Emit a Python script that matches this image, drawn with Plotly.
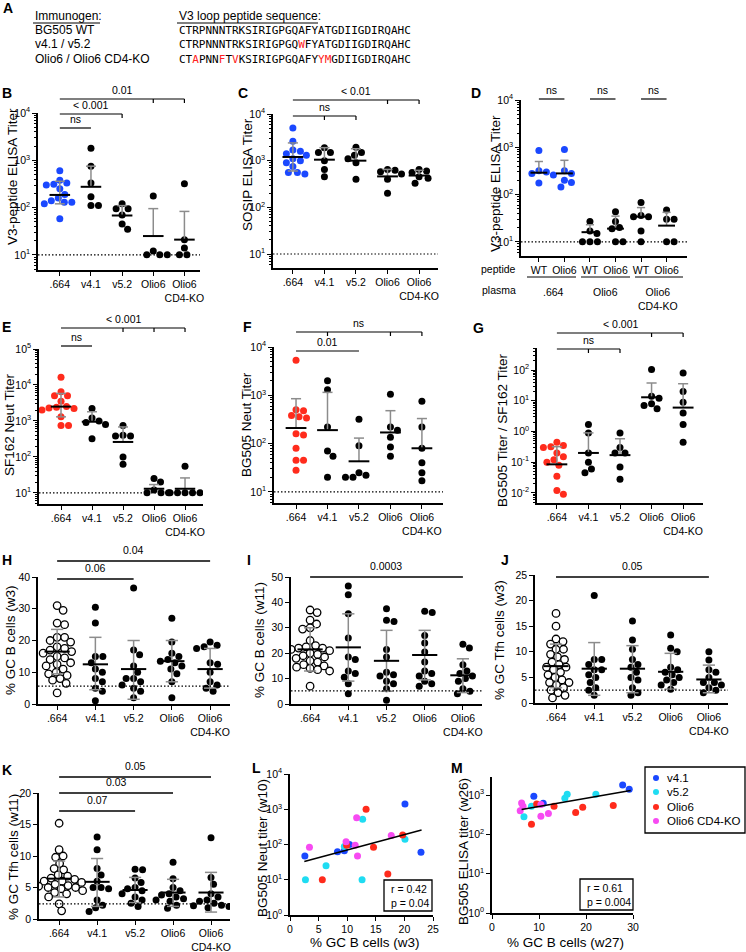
import numpy as np
import plotly.graph_objects as go

W, H = 746, 952
FONT = "Liberation Sans, Arial, sans-serif"
MONO = "DejaVu Sans Mono, monospace"

BLUE = "#1a48ff"
RED = "#ff2b1c"
CYAN = "#1fdcf2"
MAGENTA = "#f74af2"
GREY = "#8c8c8c"

# ---------------- data ----------------
groups = [".664", "v4.1", "v5.2", "Olio6", "Olio6<br>CD4-KO"]
d_groups = ["WT", "Olio6", "WT", "Olio6", "WT", "Olio6"]

# B  V3-peptide ELISA titer
b_vals = [[600, 380, 330, 310, 300, 250, 190, 160, 140, 130, 130, 120, 58],
          [1800, 750, 330, 170, 110, 110],
          [120, 95, 95, 70, 45, 35],
          [175, 12, 10, 10, 10],
          [320, 21, 14, 10, 10]]
b_mean = [185, 275, 68, 25, 21]
b_hi = [360, 750, 110, 95, 83]
b_lo = [120, None, None, None, None]
b_sig = [(0, 1, [], "ns"), (0, 2, [2], "< 0.001"), (0, 4, [3, 4], "0.01")]

# C  SOSIP ELISA titer
c_vals = [[5000, 2600, 1700, 1600, 1400, 1300, 1100, 1000, 900, 750, 560, 560, 520],
          [1900, 1500, 1500, 1000, 650, 450],
          [1950, 1500, 1300, 1100, 900, 400],
          [650, 620, 580, 520, 400, 200],
          [650, 600, 560, 450, 420, 330]]
c_mean = [1200, 1050, 1000, 460, 480]
c_hi = [2400, 1900, 1800, 650, 620]
c_lo = [600, None, None, None, None]
c_sig = [(0, 2, [1, 2], "ns"), (0, 4, [3, 4], "< 0.01")]

# D  V3-peptide ELISA titer by peptide / plasma
d_vals = [[850, 320, 300, 280, 260, 175],
          [900, 320, 280, 200, 180, 145],
          [27, 17, 15, 10, 10, 10],
          [43, 27, 20, 19, 10, 10],
          [68, 36, 34, 34, 17, 10],
          [47, 30, 30, 10, 10]]
d_mean = [290, 280, 16, 19, 34, 22]
d_hi = [500, 530, 23, 35, 53, 42]
d_lo = [None] * 6
d_sig = [(0, 1, [], "ns"), (2, 3, [], "ns"), (4, 5, [], "ns")]
d_plasma = [".664", "Olio6", "Olio6<br>CD4-KO"]

# E  SF162 neut titer
e_vals = [[16500, 6500, 5000, 5000, 3500, 2500, 2400, 2300, 2200, 2000, 1300, 750, 750],
          [2200, 1200, 1000, 900, 800, 320],
          [750, 400, 380, 380, 100, 62],
          [25, 20, 12, 10, 10, 10],
          [55, 10, 10, 10, 10, 10]]
e_mean = [2500, 950, 260, 13, 13]
e_hi = [5800, 1800, 680, 17, 26]
e_lo = [1300, None, None, None, None]
e_sig = [(0, 1, [], "ns"), (0, 4, [2, 3, 4], "< 0.001")]

# F  BG505 neut titer
f_vals = [[5300, 500, 480, 380, 360, 340, 160, 150, 80, 45, 45, 28],
          [2000, 1300, 220, 70, 55, 20],
          [320, 90, 25, 22, 20, 20],
          [1050, 220, 190, 135, 85, 55],
          [750, 220, 80, 40, 25, 17]]
f_mean = [210, 190, 43, 170, 80]
f_hi = [850, 1150, 130, 480, 330]
f_lo = [None] * 5
f_sig = [(0, 2, [], "0.01"), (0, 4, [1, 3, 4], "ns")]

# G  BG505 / SF162 titer ratio
g_vals = [[0.45, 0.35, 0.32, 0.3, 0.2, 0.15, 0.12, 0.1, 0.08, 0.035, 0.012, 0.009],
          [1.7, 0.9, 0.2, 0.1, 0.06, 0.045],
          [0.9, 0.3, 0.2, 0.2, 0.07, 0.028],
          [105, 14, 12, 8, 7, 5.5],
          [80, 20, 9, 4, 1.7, 0.45]]
g_mean = [0.085, 0.2, 0.17, 13, 6]
g_hi = [0.32, 0.9, 0.58, 38, 36]
g_lo = [None] * 5
g_sig = [(0, 2, [1, 2], "ns"), (0, 4, [3, 4], "< 0.001")]

# H  % GC B cells (w3)
h_vals = [[31, 29.5, 25.5, 25, 21, 21, 20, 19.5, 18, 17.5, 17, 16.5, 16, 15, 14.5, 14,
           13, 12.5, 12, 11, 10, 9.5, 9, 8, 7.5, 6.5, 3.5],
          [30.5, 25.5, 15, 15, 13, 11, 10, 8, 7, 5, 4, 1],
          [36.5, 17, 15.5, 12, 10, 8, 8, 7, 6, 5, 4, 2],
          [27, 19.5, 16, 15, 14, 13.5, 13, 12, 11, 9.5, 7, 2],
          [19.5, 18.5, 18, 17.5, 13, 12.5, 10, 7, 6, 5, 4]]
h_mean = [16.5, 12.5, 11, 13.5, 11]
h_hi = [23.5, 21, 20, 20, 17.5]
h_lo = [9.5, 4.5, 1.5, 7, 5]
h_sig = [(0, 2, [], "0.06"), (0, 4, [], "0.04")]

# I  % GC B cells (w11)
i_vals = [[37, 36, 33, 31.5, 30, 29.5, 25, 23, 22.5, 22, 22, 21.5, 21, 20, 19.5, 19,
           18.5, 18, 17, 16.5, 15.5, 15, 14.5, 14, 13.5, 13, 7],
          [46.5, 43, 35.5, 26, 18.5, 17.5, 13, 12, 10.5, 8, 4],
          [37.5, 33, 32.5, 21.5, 18.5, 12.5, 11.5, 11, 9, 8, 6, 1.5],
          [36.5, 36, 27, 24, 20.5, 16.5, 13, 12, 11, 9, 8, 7],
          [23.5, 22, 15.5, 13, 12, 11, 10, 9, 6, 5, 4]]
i_mean = [21.5, 22.3, 17, 19.3, 11.3]
i_hi = [30, 35.5, 29, 29, 17.8]
i_lo = [13, 9, 5, 9.5, 4.5]
i_sig = [(0, 4, [], "0.0003")]

# J  % GC Tfh cells (w3)
j_vals = [[17.5, 15, 12.5, 12, 11.5, 10.5, 10.5, 9.5, 9, 8.5, 8, 7.5, 7, 7, 6.5, 6,
           5.5, 5, 4.5, 4, 4, 3.5, 3, 2.5, 2, 1.5, 1],
          [21, 8.5, 8.5, 7.5, 6.5, 6.5, 5.5, 5, 4, 3, 2.5, 1.5],
          [16, 12.3, 10.5, 8.5, 7.5, 7, 6, 5, 4.5, 3, 2, 1.5],
          [13.3, 10.7, 10, 7, 6.5, 6, 5.5, 5, 4.5, 4, 3.5, 2.7],
          [10, 8.4, 6.5, 6, 5, 4, 4, 3.5, 3, 2.5, 2]]
j_mean = [7.2, 6.7, 6.7, 6.1, 4.6]
j_hi = [11.5, 11.8, 11.2, 9.7, 7.4]
j_lo = [3, 1.5, 2, 2.7, 2]
j_sig = [(0, 4, [], "0.05")]

# K  % GC Tfh cells (w11)
k_vals = [[15.2, 11, 10, 9.8, 8.8, 8, 7.8, 7, 6.8, 6.5, 6.3, 6, 6, 5.8, 5.5, 5.3,
           5.2, 5, 5, 4.8, 4.5, 4.2, 4, 3.5, 2.4, 1.3],
          [13, 11, 8, 7, 6, 5, 5, 4.8, 3, 2.2, 1.8, 1.2],
          [7.9, 7.8, 6.5, 5.8, 5, 4.8, 4.5, 4, 3.5, 3, 2.5, 2],
          [9, 6.4, 5, 4.5, 4, 3.8, 3.5, 3.2, 3, 2.8, 2.2, 1.7],
          [12.9, 6.6, 5.5, 4, 3.5, 3, 2.8, 2.5, 2.2, 2.1, 2, 1.8]]
k_mean = [6.4, 5.9, 4.6, 4.2, 4.2]
k_hi = [9.2, 9.6, 6.6, 6.3, 7.4]
k_lo = [3.5, 2, 2.6, 2, 1.1]
k_sig = [(0, 2, [], "0.07"), (0, 3, [], "0.03"), (0, 4, [], "0.05")]

# L  BG505 neut titer (w10) vs % GC B cells (w3)
series = ["v4.1", "v5.2", "Olio6", "Olio6 CD4-KO"]
l_x = [[2.6, 8.3, 9.5, 10.4, 20.1, 22.9],
       [2.7, 6.3, 9.5, 12.7, 12.6, 20.1],
       [5.65, 9.9, 13.3, 14.6, 17.1, 19.7],
       [3.4, 9.8, 11.4, 11.65, 11.8, 17.7]]
l_y = [[47, 62, 66, 100, 1400, 60],
       [10, 25, 88, 520, 10, 140],
       [10, 95, 1000, 83, 14.5, 185],
       [83, 120, 95, 570, 47, 180]]
l_fit_x = [2.5, 23]
l_fit_y = [33, 257]
l_stats = "r = 0.42<br>p = 0.04"

# M  BG505 ELISA titer (w26) vs % GC B cells (w27)
m_x = [[27.8, 29.2, 8.9, 10.9],
       [16, 15.5, 22.1, 8.4, 6.8],
       [9.5, 13.2, 19.3, 25.8, 17.8, 8.4],
       [6.3, 6.6, 6.0, 10.4, 10.4, 12.0]]
m_y = [[1800, 1400, 940, 620],
       [1050, 830, 1050, 520, 280],
       [590, 520, 490, 540, 360, 180],
       [630, 520, 400, 580, 290, 340]]
m_fit_x = [6.3, 29.5]
m_fit_y = [430, 1300]
m_stats = "r = 0.61<br>p = 0.004"

# ---------------- layout helpers ----------------
fig = go.Figure()
shapes, annotations = [], []
layout = dict(template="none", width=W, height=H, margin=dict(l=0, r=0, t=0, b=0, autoexpand=False),
              plot_bgcolor="white", paper_bgcolor="white", showlegend=False,
              font=dict(family=FONT, color="black", size=11))


def names(n):
    s = "" if n == 1 else str(n)
    return "xaxis" + s, "yaxis" + s, "x" + s, "y" + s


def ann(x, y, text, size=10.5, **kw):
    d = dict(x=x / W, y=1 - y / H, xref="paper", yref="paper", text=text, showarrow=False,
             xanchor="center", yanchor="middle",
             font=dict(family=FONT, size=size, color="black"))
    d.update(kw)
    annotations.append(d)


def hline(x0, x1, y, width=1.2, color="black", dash=None):
    shapes.append(dict(type="line", xref="paper", yref="paper", x0=x0 / W, x1=x1 / W,
                       y0=1 - y / H, y1=1 - y / H, line=dict(color=color, width=width, dash=dash)))


def vline(x, y0, y1, width=1.2):
    shapes.append(dict(type="line", xref="paper", yref="paper", x0=x / W, x1=x / W,
                       y0=1 - y0 / H, y1=1 - y1 / H, line=dict(color="black", width=width)))


def setup(p):
    xa, ya, xr, yr = names(p["n"])
    l, r, t, b = p["box"]
    base = dict(showline=True, linecolor="black", linewidth=1.5, ticks="outside", ticklen=4,
                tickwidth=1.3, tickcolor="black", showgrid=False, zeroline=False,
                automargin=False, tickangle=0,
                tickfont=dict(size=10.5, color="black", family=FONT), fixedrange=True)
    xaxis = dict(base, domain=[l / W, r / W], anchor=yr, range=list(p["xr"]))
    yaxis = dict(base, domain=[1 - b / H, 1 - t / H], anchor=xr, range=list(p["yr"]))
    if p.get("cats"):
        xaxis.update(tickmode="array", tickvals=list(range(len(p["cats"]))), ticktext=p["cats"])
    else:
        xaxis.update(tickmode="array", tickvals=p["xt"])
    if p["log"]:
        lo, hi = int(np.ceil(p["yr"][0])), int(np.floor(p["yr"][1]))
        yaxis.update(type="log", tickmode="array", tickvals=[10.0 ** k for k in range(lo, hi + 1)],
                     ticktext=["10<sup>%d</sup>" % k for k in range(lo, hi + 1)])
        if p.get("minor", True):
            mv = [m * 10.0 ** k for k in range(lo - 1, hi + 1) for m in range(2, 10)]
            mv = [v for v in mv if p["yr"][0] <= np.log10(v) <= p["yr"][1]]
            yaxis["minor"] = dict(ticks="outside", ticklen=2, tickwidth=0.8, tickcolor="black",
                                  tickmode="array", tickvals=mv)
    else:
        yaxis.update(tickmode="array", tickvals=p["yt"])
    layout[xa] = xaxis
    layout[ya] = yaxis


def cat_px(p, g):
    l, r, _, _ = p["box"]
    return l + (g - p["xr"][0]) / (p["xr"][1] - p["xr"][0]) * (r - l)


def swarm(ypix, d):
    offs = np.zeros(len(ypix))
    placed = []
    for i in np.argsort(-ypix, kind="stable"):
        y = ypix[i]
        k, found = 0, None
        while found is None:
            for o in ([0.0] if k == 0 else [k * 0.5, -k * 0.5]):
                if all((o - po) ** 2 + (y - py) ** 2 >= d * d for po, py in placed):
                    found = o
                    break
            k += 1
        placed.append((found, y))
        offs[i] = found
    return offs


def strip(p, vals, mean, hi, lo, colors, open_first=False):
    _, _, xr, yr = names(p["n"])
    l, r, t, b = p["box"]
    ppx = (r - l) / (p["xr"][1] - p["xr"][0])
    ppy = (b - t) / (p["yr"][1] - p["yr"][0])
    for g, v in enumerate(vals):
        v = np.asarray(v, float)
        yv = np.log10(v) if p["log"] else v
        offs = swarm(yv * ppy, 7.3) / ppx
        if open_first and g == 0:
            mk = dict(size=7.5, color="white", line=dict(color="black", width=1.3))
        else:
            mk = dict(size=7, color=colors[g], line=dict(width=0))
        fig.add_trace(go.Scatter(x=g + offs, y=v, mode="markers", marker=mk,
                                 xaxis=xr, yaxis=yr, hoverinfo="skip"))
    ex, ey, mx, my = [], [], [], []
    for g in range(len(vals)):
        bottom = lo[g] if lo[g] is not None else mean[g]
        ex += [g, g, None, g - 0.16, g + 0.16, None]
        ey += [bottom, hi[g], None, hi[g], hi[g], None]
        if lo[g] is not None:
            ex += [g - 0.16, g + 0.16, None]
            ey += [lo[g], lo[g], None]
        mx += [g - 0.33, g + 0.33, None]
        my += [mean[g], mean[g], None]
    fig.add_trace(go.Scatter(x=ex, y=ey, mode="lines", line=dict(color=GREY, width=1.5),
                             xaxis=xr, yaxis=yr, hoverinfo="skip"))
    fig.add_trace(go.Scatter(x=mx, y=my, mode="lines", line=dict(color="black", width=2),
                             xaxis=xr, yaxis=yr, hoverinfo="skip"))


def dotted(p, yval):
    _, _, xr, yr = names(p["n"])
    fig.add_trace(go.Scatter(x=list(p["xr"]), y=[yval, yval], mode="lines",
                             line=dict(color="black", width=1.2, dash="1.5px,2px"),
                             xaxis=xr, yaxis=yr, hoverinfo="skip"))


def sig(p, specs, ys, gap=1, drop=4, width=1.2):
    for (g0, g1, drops, label), y in zip(specs, ys):
        x0, x1 = cat_px(p, g0), cat_px(p, g1)
        hline(x0, x1, y, width=width)
        for g in drops:
            vline(cat_px(p, g), y, y + drop, width=width)
        ann((x0 + x1) / 2, y - gap, label, yanchor="bottom")


# ---------------- panel geometry (pixels: left, right, top, bottom) ----------------
P = {
    "B": dict(n=1, box=(38, 200, 113, 270), xr=(-0.7, 4.5), yr=(0.68, 4), log=True, cats=groups),
    "C": dict(n=2, box=(273, 438, 114, 268), xr=(-0.63, 4.6), yr=(0.70, 4), log=True, cats=groups),
    "D": dict(n=3, box=(521, 687, 100, 256), xr=(-0.7, 5.8), yr=(0.70, 4), log=True, cats=d_groups),
    "E": dict(n=4, box=(39, 203, 349, 504), xr=(-0.71, 4.58), yr=(0.69, 5), log=True, cats=groups),
    "F": dict(n=5, box=(274, 443, 347, 503), xr=(-0.70, 4.67), yr=(0.77, 4), log=True, cats=groups),
    "G": dict(n=6, box=(537, 703, 348, 503), xr=(-0.63, 4.63), yr=(-2.33, 2.72), log=True, cats=groups),
    "H": dict(n=7, box=(38, 230, 577, 704), xr=(-0.5, 4.52), yr=(0, 40), log=False, cats=groups,
              yt=[0, 10, 20, 30, 40]),
    "I": dict(n=8, box=(291, 482, 577, 704), xr=(-0.5, 4.5), yr=(0, 50), log=False, cats=groups,
              yt=[0, 10, 20, 30, 40, 50]),
    "J": dict(n=9, box=(535, 728, 575, 703), xr=(-0.55, 4.5), yr=(0, 25), log=False, cats=groups,
              yt=[0, 5, 10, 15, 20, 25]),
    "K": dict(n=10, box=(39, 230, 793, 919), xr=(-0.53, 4.5), yr=(0, 20), log=False, cats=groups,
              yt=[0, 5, 10, 15, 20]),
    "L": dict(n=11, box=(290, 433, 774, 915), xr=(0, 25), yr=(0, 4), log=True, minor=False,
              xt=[0, 5, 10, 15, 20, 25]),
    "M": dict(n=12, box=(492, 633, 777, 913), xr=(0, 30), yr=(0, 3.46), log=True, minor=False,
              xt=[0, 10, 20, 30]),
}
for p in P.values():
    setup(p)

# strip plots
blk = "black"
strip(P["B"], b_vals, b_mean, b_hi, b_lo, [BLUE, blk, blk, blk, blk])
strip(P["C"], c_vals, c_mean, c_hi, c_lo, [BLUE, blk, blk, blk, blk])
strip(P["D"], d_vals, d_mean, d_hi, d_lo, [BLUE, BLUE, blk, blk, blk, blk])
strip(P["E"], e_vals, e_mean, e_hi, e_lo, [RED, blk, blk, blk, blk])
strip(P["F"], f_vals, f_mean, f_hi, f_lo, [RED, blk, blk, blk, blk])
strip(P["G"], g_vals, g_mean, g_hi, g_lo, [RED, blk, blk, blk, blk])
strip(P["H"], h_vals, h_mean, h_hi, h_lo, [blk] * 5, open_first=True)
strip(P["I"], i_vals, i_mean, i_hi, i_lo, [blk] * 5, open_first=True)
strip(P["J"], j_vals, j_mean, j_hi, j_lo, [blk] * 5, open_first=True)
strip(P["K"], k_vals, k_mean, k_hi, k_lo, [blk] * 5, open_first=True)

for key in "BCDEF":
    dotted(P[key], 10)
dotted(P["H"], 5.6)
dotted(P["I"], 5.2)
dotted(P["J"], 2.5)
dotted(P["K"], 2.4)

sig(P["B"], b_sig, [128, 114, 99])
sig(P["C"], c_sig, [116, 100])
sig(P["D"], d_sig, [99, 99, 99])
sig(P["E"], e_sig, [346, 328])
sig(P["F"], f_sig, [351, 332])
sig(P["G"], g_sig, [349, 333])
sig(P["H"], h_sig, [579, 561], gap=3, width=1.5)
sig(P["I"], i_sig, [577], gap=3, width=1.5)
sig(P["J"], j_sig, [577], gap=3, width=1.5)
sig(P["K"], k_sig, [811, 793, 777], gap=3, width=1.5)

# scatter panels L and M
colors4 = [BLUE, CYAN, RED, MAGENTA]
for key, xs, ys, fx, fy in (("L", l_x, l_y, l_fit_x, l_fit_y), ("M", m_x, m_y, m_fit_x, m_fit_y)):
    _, _, xr, yr = names(P[key]["n"])
    for s in range(4):
        fig.add_trace(go.Scatter(x=xs[s], y=ys[s], mode="markers", name=series[s],
                                 marker=dict(size=7, color=colors4[s]), xaxis=xr, yaxis=yr,
                                 hoverinfo="skip"))
    fig.add_trace(go.Scatter(x=fx, y=fy, mode="lines", line=dict(color="black", width=1.5),
                             xaxis=xr, yaxis=yr, hoverinfo="skip"))

# stats boxes
for (x0, x1, y0, y1), txt in (((384, 432, 880, 911), l_stats), ((580, 633, 879, 910), m_stats)):
    shapes.append(dict(type="rect", xref="paper", yref="paper", x0=x0 / W, x1=x1 / W,
                       y0=1 - y1 / H, y1=1 - y0 / H, line=dict(color="black", width=1.3)))
    ann(x0 + 5, (y0 + y1) / 2, txt, size=10.5, xanchor="left", align="left")

# manual legend for M
shapes.append(dict(type="rect", xref="paper", yref="paper", x0=645 / W, x1=745 / W,
                   y0=1 - 833 / H, y1=1 - 767 / H, line=dict(color="black", width=1.3)))
for s, yy in enumerate([778, 792, 807, 821]):
    shapes.append(dict(type="circle", xref="paper", yref="paper", x0=653 / W, x1=659 / W,
                       y0=1 - (yy + 3) / H, y1=1 - (yy - 3) / H,
                       fillcolor=colors4[s], line=dict(width=0)))
    ann(665, yy, series[s], size=11.5, xanchor="left")

# axis titles
ytitles = [(12, 177, "V3-peptide ELISA Titer"), (247, 175, "SOSIP ELISA Titer"),
           (496, 184, "V3-peptide ELISA Titer"), (10, 425, "SF162 Neut Titer"),
           (247, 425, "BG505 Neut Titer"), (503, 430, "BG505 Titer / SF162 Titer"),
           (10, 640, "% GC B cells (w3)"), (259, 640, "% GC B cells (w11)"),
           (499, 640, "% GC Tfh cells (w3)"), (13, 857, "% GC Tfh cells (w11)"),
           (262, 848, "BG505 Neut titer (w10)"), (463, 852, "BG505 ELISA titer (w26)")]
for x, y, t in ytitles:
    ann(x, y, t, size=13.5, textangle=-90)
ann(365, 942, "% GC B cells (w3)", size=13.5)
ann(565, 942, "% GC B cells (w27)", size=13.5)

# D group annotations
ann(518, 269, "peptide", size=10.5, xanchor="right")
ann(518, 290, "plasma", size=10.5, xanchor="right")
for (x0, x1) in ((527, 576), (581, 630), (635, 683)):
    hline(x0, x1, 277, width=1)
for xc, t in zip((553, 605, 658), d_plasma):
    ann(xc, 284, t, size=10.5, yanchor="top")

# panel letters
for lt, x, y in (("A", 8, 8), ("B", 7, 93), ("C", 243, 93), ("D", 476, 93), ("E", 7, 327),
                 ("F", 247, 327), ("G", 478, 328), ("H", 7, 560), ("I", 249, 560),
                 ("J", 505, 560), ("K", 7, 770), ("L", 256, 768), ("M", 457, 768)):
    ann(x, y, "<b>%s</b>" % lt, size=14)

# panel A text
ann(33, 16, "Immunogen:", size=12, xanchor="left")
hline(33, 100, 23, width=1)
ann(177, 16, "V3 loop peptide sequence:", size=12, xanchor="left")
hline(177, 318, 23, width=1)
immunogens = ["BG505 WT", "v4.1 / v5.2", "Olio6 / Olio6 CD4-KO"]
wt_seq = "CTRPNNNTRKSIRIGPGQAFYATGDIIGDIRQAHC"
v4_seq = "CTRPNNNTRKSIRIGPGQWFYATGDIIGDIRQAHC"
olio_seq = "CTAPNNFTVKSIRIGPGQAFYYMGDIIGDIRQAHC"


def seq_html(seq):
    out = ""
    for a, b in zip(seq, wt_seq):
        out += a if a == b else '<span style="color:#ff2020">%s</span>' % a
    return out


for y, name, seq in zip((30, 44, 59), immunogens, (wt_seq, v4_seq, olio_seq)):
    ann(33, y, name, size=12, xanchor="left")
    annotations.append(dict(x=177 / W, y=1 - y / H, xref="paper", yref="paper", xanchor="left",
                            yanchor="middle", text=seq_html(seq), showarrow=False,
                            font=dict(family=MONO, size=11, color="black")))

layout["shapes"] = shapes
layout["annotations"] = annotations
fig.update_layout(**layout)
fig.write_html("out.html", config={"displayModeBar": False},
               post_script="document.body.style.margin='0';")
